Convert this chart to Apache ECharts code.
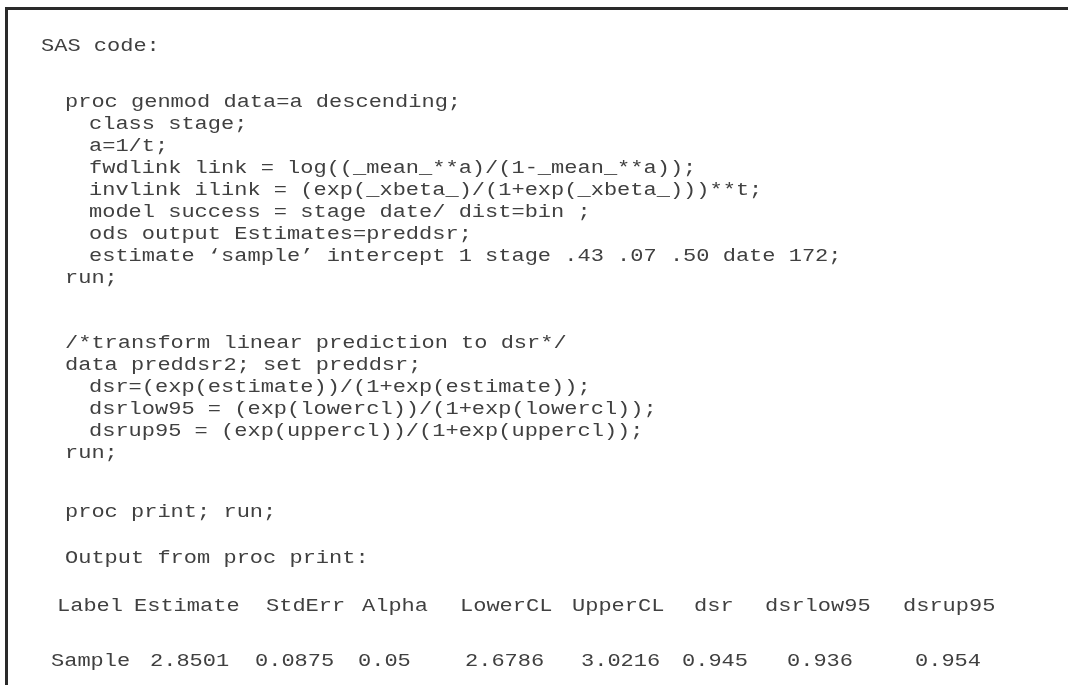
<!DOCTYPE html>
<html>
<head>
<meta charset="utf-8">
<script src="https://cdn.jsdelivr.net/npm/echarts@6/dist/echarts.min.js"></script>
<style>
html,body{margin:0;padding:0;background:#fff;}
#chart{width:1068px;height:685px;}
</style>
</head>
<body>
<div id="chart"></div>
<script>
// ---- content (text) ----
var codeLines = [
  "SAS code:",
  "proc genmod data=a descending;",
  "class stage;",
  "a=1/t;",
  "fwdlink link = log((_mean_**a)/(1-_mean_**a));",
  "invlink ilink = (exp(_xbeta_)/(1+exp(_xbeta_)))**t;",
  "model success = stage date/ dist=bin ;",
  "ods output Estimates=preddsr;",
  "estimate \u2018sample\u2019 intercept 1 stage .43 .07 .50 date 172;",
  "run;",
  "/*transform linear prediction to dsr*/",
  "data preddsr2; set preddsr;",
  "dsr=(exp(estimate))/(1+exp(estimate));",
  "dsrlow95 = (exp(lowercl))/(1+exp(lowercl));",
  "dsrup95 = (exp(uppercl))/(1+exp(uppercl));",
  "run;",
  "proc print; run;",
  "Output from proc print:"
];
var tableHeader = ["Label", "Estimate", "StdErr", "Alpha", "LowerCL", "UpperCL", "dsr", "dsrlow95", "dsrup95"];
var tableValues = ["Sample", "2.8501", "0.0875", "0.05", "2.6786", "3.0216", "0.945", "0.936", "0.954"];

// ---- layout ----
var lineX = [41, 65, 89, 89, 89, 89, 89, 89, 89, 65, 65, 65, 89, 89, 89, 65, 65, 65];
var lineY = [46, 102, 124, 146, 168, 190, 212, 234, 256, 278, 343, 365, 387, 409, 431, 453, 512, 558];
var headerX = [57, 134, 266, 362, 460, 572, 694, 765, 903];
var valueX = [51, 150, 255, 358, 465, 581, 682, 787, 915];
var headerY = 606, valueY = 661;

var FONT_SIZE = 18;
var CHAR_W = 13.2;                       // advance width of the reference's monospace text
var SCALE_X = CHAR_W / (0.6 * FONT_SIZE);
var FONT = FONT_SIZE + 'px "Liberation Mono", "DejaVu Sans Mono", monospace';
var COLOR = '#404040';

var elements = [];
elements.push({
  type: 'polyline',
  shape: { points: [[6.5, 685], [6.5, 8.5], [1068, 8.5]] },
  style: { stroke: '#2a2a2a', lineWidth: 3, fill: null }
});
function addText(t, x, y) {
  elements.push({ type: 'text', x: x, y: y, scaleX: SCALE_X,
    style: { text: t, font: FONT, fill: COLOR, verticalAlign: 'middle', align: 'left' } });
}
codeLines.forEach(function (t, i) { addText(t, lineX[i], lineY[i]); });
tableHeader.forEach(function (t, i) { addText(t, headerX[i], headerY); });
tableValues.forEach(function (t, i) { addText(t, valueX[i], valueY); });

var chart = echarts.init(document.getElementById('chart'), null, { renderer: 'canvas' });
chart.setOption({
  backgroundColor: '#ffffff',
  animation: false,
  graphic: { elements: elements }
});
</script>
</body>
</html>
